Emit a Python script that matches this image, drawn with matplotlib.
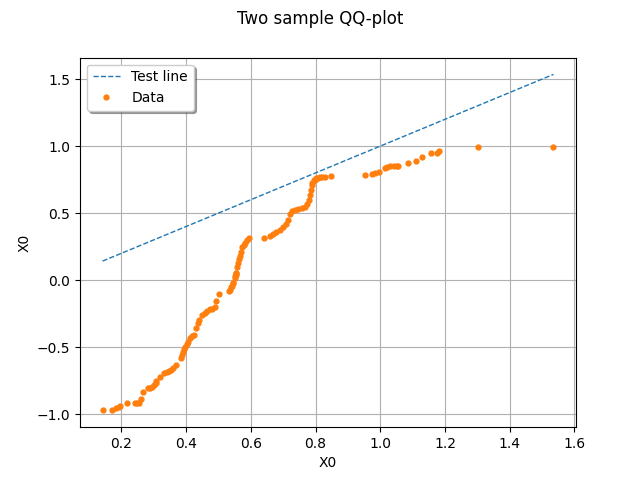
import numpy as np
import matplotlib
matplotlib.use('Agg')
import matplotlib.pyplot as plt

# sample values (sorted pairs)
x_data = [0.142, 0.170, 0.184, 0.192, 0.196, 0.218, 0.241, 0.247, 0.256, 0.260,
          0.266, 0.281, 0.289, 0.295, 0.302, 0.307, 0.307, 0.319, 0.333, 0.340,
          0.346, 0.354, 0.361, 0.368, 0.383, 0.387, 0.391, 0.395, 0.398, 0.402,
          0.407, 0.413, 0.419, 0.424, 0.431, 0.436, 0.441, 0.450, 0.457, 0.464,
          0.473, 0.481, 0.488, 0.493, 0.503, 0.534, 0.536, 0.539, 0.541, 0.544,
          0.545, 0.550, 0.551, 0.553, 0.554, 0.555, 0.556, 0.560, 0.564, 0.566,
          0.569, 0.574, 0.579, 0.583, 0.588, 0.593, 0.641, 0.660, 0.668, 0.679,
          0.689, 0.699, 0.708, 0.715, 0.720, 0.726, 0.736, 0.747, 0.757, 0.768,
          0.775, 0.781, 0.784, 0.786, 0.789, 0.790, 0.795, 0.797, 0.800, 0.807,
          0.813, 0.821, 0.828, 0.849, 0.953, 0.975, 0.983, 0.997, 1.015, 1.022,
          1.030, 1.041, 1.051, 1.056, 1.087, 1.109, 1.128, 1.156, 1.174, 1.182,
          1.303, 1.535]
y_data = [-0.972, -0.972, -0.955, -0.946, -0.940, -0.920, -0.920, -0.920, -0.920, -0.890,
          -0.838, -0.808, -0.804, -0.796, -0.786, -0.771, -0.754, -0.721, -0.696, -0.687,
          -0.677, -0.669, -0.657, -0.632, -0.584, -0.560, -0.535, -0.515, -0.498, -0.478,
          -0.460, -0.435, -0.418, -0.413, -0.360, -0.323, -0.299, -0.261, -0.244, -0.231,
          -0.219, -0.219, -0.204, -0.154, -0.104, -0.080, -0.075, -0.055, -0.045, -0.025,
          -0.020, 0.013, 0.030, 0.037, 0.050, 0.055, 0.095, 0.125, 0.155, 0.179,
          0.211, 0.244, 0.261, 0.278, 0.299, 0.311, 0.318, 0.328, 0.343, 0.361,
          0.373, 0.393, 0.418, 0.448, 0.493, 0.517, 0.522, 0.528, 0.535, 0.547,
          0.567, 0.597, 0.634, 0.672, 0.709, 0.722, 0.746, 0.746, 0.759, 0.763,
          0.766, 0.771, 0.771, 0.776, 0.781, 0.789, 0.796, 0.809, 0.834, 0.843,
          0.851, 0.851, 0.853, 0.853, 0.871, 0.890, 0.915, 0.945, 0.945, 0.965,
          0.990, 0.990]

line_x = [min(x_data), max(x_data)]
line_y = [min(x_data), max(x_data)]

fig = plt.figure(figsize=(6.4, 4.8), dpi=100)
ax = fig.add_subplot(111)
ax.plot(line_x, line_y, '--', color='C0', lw=1, label='Test line')
ax.plot(x_data, y_data, 'o', color='C1', ms=3.5, ls='', label='Data')
ax.set_xlabel('X0')
ax.set_ylabel('X0')
ax.grid(True)
ax.legend(loc='upper left', shadow=True)
fig.suptitle('Two sample QQ-plot')
fig.savefig('out.png')
